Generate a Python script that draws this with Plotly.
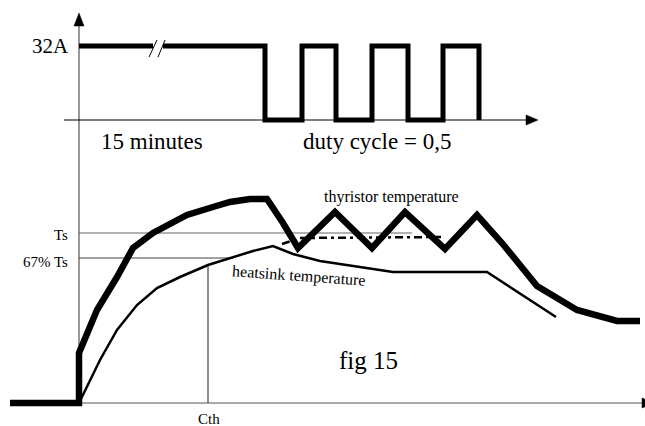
import plotly.graph_objects as go

# ---- data (time units, temperature units, current in A) ----
thyristor_time = [-69, 0, 0, 18, 38, 54, 74, 108, 134, 151, 171, 188, 204, 219, 256, 293, 326, 366, 398, 423, 458, 498, 538, 561]
thyristor_temp = [0, 0, 50, 93, 126, 155, 170, 188, 196, 201, 204, 204, 180, 155, 191, 155, 191, 154, 188, 160, 117, 93, 82, 82]

heatsink_time = [0, 21, 38, 58, 78, 101, 129, 154, 174, 194, 214, 241, 314, 408, 477]
heatsink_temp = [0, 43, 73, 98, 115, 126, 138, 146, 152, 157, 149, 142, 131, 131, 86]

average_time = [203, 221, 363]
average_temp = [159, 165, 166]

current_time = [0, 74, None, 84, 186, 186, 223, 223, 257, 257, 293, 293, 329, 329, 364, 364, 400, 400]
current_amp = [32, 32, None, 32, 32, 0, 0, 32, 32, 0, 0, 32, 32, 0, 0, 32, 32, 0]

ts_level = 170
ts67_level = 145
cth_time = 129
ts_line_end = 333
ts67_line_end = 154

SERIF = "Liberation Serif, Times New Roman, serif"

fig = go.Figure()

AX = "#555555"

# ---- axes / reference lines ----
fig.add_trace(go.Scatter(x=[0, 0], y=[0, 378], mode="lines", line=dict(color=AX, width=1.2), hoverinfo="skip"))
fig.add_trace(go.Scatter(x=[-5, 5, 0, -5], y=[377, 377, 390, 377], mode="lines", fill="toself",
                         fillcolor="black", line=dict(color="black", width=0.5), hoverinfo="skip"))
fig.add_trace(go.Scatter(x=[-69, 564], y=[0, 0], mode="lines", line=dict(color=AX, width=1.2), hoverinfo="skip"))
fig.add_trace(go.Scatter(x=[563, 563, 576, 563], y=[-5, 5, 0, -5], mode="lines", fill="toself",
                         fillcolor="black", line=dict(color="black", width=0.5), hoverinfo="skip"))
fig.add_trace(go.Scatter(x=[0, ts_line_end], y=[ts_level, ts_level], mode="lines", line=dict(color="#666666", width=1.2), hoverinfo="skip"))
fig.add_trace(go.Scatter(x=[0, ts67_line_end], y=[ts67_level, ts67_level], mode="lines", line=dict(color="#444444", width=1.2), hoverinfo="skip"))
fig.add_trace(go.Scatter(x=[cth_time, cth_time], y=[0, 138], mode="lines", line=dict(color="#444444", width=1.2), hoverinfo="skip"))

# upper current axis (y2)
fig.add_trace(go.Scatter(x=[-15, 448], y=[0, 0], yaxis="y2", mode="lines", line=dict(color="black", width=1.2), hoverinfo="skip"))
fig.add_trace(go.Scatter(x=[447, 447, 459, 447], y=[-2.2, 2.2, 0, -2.2], yaxis="y2", mode="lines", fill="toself",
                         fillcolor="black", line=dict(color="black", width=0.5), hoverinfo="skip"))

# ---- curves ----
fig.add_trace(go.Scatter(x=current_time, y=current_amp, yaxis="y2", mode="lines",
                         line=dict(color="black", width=5), hoverinfo="skip"))
fig.add_trace(go.Scatter(x=[70, 78, None, 79, 86], y=[27.2, 34.6, None, 27.2, 34.6], yaxis="y2", mode="lines",
                         line=dict(color="black", width=1), hoverinfo="skip"))

fig.add_trace(go.Scatter(x=heatsink_time, y=heatsink_temp, mode="lines", line=dict(color="black", width=2.5), hoverinfo="skip"))
fig.add_trace(go.Scatter(x=average_time, y=average_temp, mode="lines",
                         line=dict(color="black", width=2.5, dash="8px,4px,3px,4px"), hoverinfo="skip"))
fig.add_trace(go.Scatter(x=thyristor_time, y=thyristor_temp, mode="lines", line=dict(color="black", width=6.5), hoverinfo="skip"))

# ---- text ----
def label(x, y, text, size, xanchor="left", yref="y", angle=0):
    fig.add_annotation(x=x, y=y, xref="x", yref=yref, text=text, showarrow=False,
                       xanchor=xanchor, yanchor="middle", textangle=angle,
                       font=dict(family=SERIF, size=size, color="black"))

label(-8, 32, "32A", 21, xanchor="right", yref="y2")
label(20, -9.5, "15 minutes", 23, yref="y2")
label(222, -9.5, "duty cycle = 0,5", 23, yref="y2")
label(243, 206, "thyristor temperature", 16)
label(220, 127, "heatsink temperature", 16, xanchor="center", angle=4)
label(258, 43, "fig 15", 25)
label(-9, 168, "Ts", 15, xanchor="right")
label(-9, 141, "67% Ts", 15, xanchor="right")
label(130, -16, "Cth", 15, xanchor="center")

amp_per_px = 32 / 74.0
fig.update_layout(
    width=645, height=426,
    margin=dict(l=0, r=0, t=0, b=0),
    paper_bgcolor="white", plot_bgcolor="white",
    showlegend=False,
    xaxis=dict(range=[-79, 566], visible=False, fixedrange=True),
    yaxis=dict(range=[-23, 403], visible=False, fixedrange=True),
    yaxis2=dict(range=[-(426 - 120) * amp_per_px, 120 * amp_per_px], overlaying="y",
                visible=False, fixedrange=True),
)

fig.write_html("out.html", config={"displayModeBar": False},
               post_script="document.body.style.margin='0';document.body.style.padding='0';document.body.style.overflow='hidden';")
